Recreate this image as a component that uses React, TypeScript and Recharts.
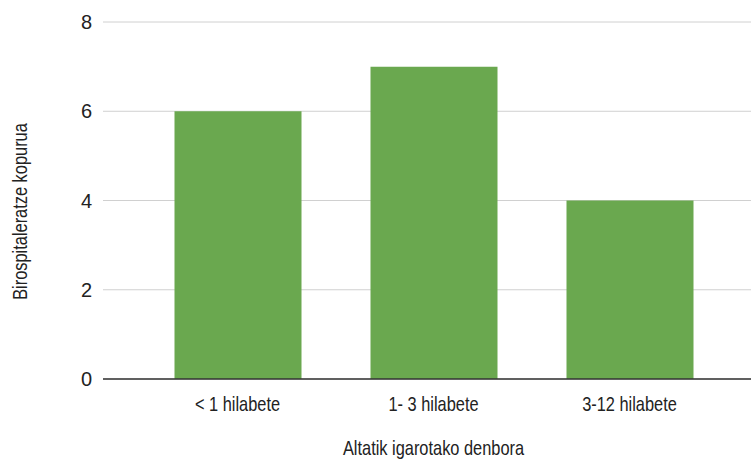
import React from 'react'
import { BarChart, Bar, XAxis, YAxis, CartesianGrid } from 'recharts'

const categories = ['< 1 hilabete', '1- 3 hilabete', '3-12 hilabete']
const hospitalisations = [6, 7, 4]
const yTicks = [0, 2, 4, 6, 8]

const FONT = "'Liberation Sans', Arial, sans-serif"
const TEXT_COLOR = '#222222'
const BAR_COLOR = '#6aa84f'
// labels are set in a condensed face; squeeze the regular one to match
const NARROW = 0.82

const data = categories.map((name, i) => ({ name, value: hospitalisations[i] }))

type Box = { x: number; y: number; width: number; height: number }

const CategoryTick = ({ x, y, payload }: { x?: number; y?: number; payload?: { value: string } }) => (
  <g transform={`translate(${x},${y}) scale(${NARROW},1)`}>
    <text x={0} y={0} dy="0.71em" textAnchor="middle" fontFamily={FONT} fontSize={20} fill={TEXT_COLOR}>
      {payload?.value}
    </text>
  </g>
)

const XTitle = ({ viewBox }: { viewBox?: Box }) => {
  if (!viewBox) return null
  const cx = viewBox.x + viewBox.width / 2
  const cy = viewBox.y + viewBox.height - 4
  return (
    <g transform={`translate(${cx},${cy}) scale(${NARROW},1)`}>
      <text x={0} y={0} textAnchor="middle" fontFamily={FONT} fontSize={20} fill={TEXT_COLOR}>
        Altatik igarotako denbora
      </text>
    </g>
  )
}

const YTitle = ({ viewBox }: { viewBox?: Box }) => {
  if (!viewBox) return null
  const cx = viewBox.x + 20
  const cy = viewBox.y + viewBox.height / 2 + 11
  return (
    <g transform={`translate(${cx},${cy}) rotate(-90) scale(${NARROW},1)`}>
      <text
        x={0}
        y={0}
        textAnchor="middle"
        dominantBaseline="central"
        fontFamily={FONT}
        fontSize={20}
        fill={TEXT_COLOR}
      >
        Birospitaleratze kopurua
      </text>
    </g>
  )
}

export default function App() {
  return (
    <div
      style={{
        position: 'fixed',
        left: 0,
        top: 0,
        width: 751,
        height: 459,
        overflow: 'hidden',
        background: '#ffffff',
      }}
    >
      <BarChart
        width={790}
        height={459}
        data={data}
        margin={{ top: 22, right: 26, left: 0, bottom: 0 }}
      >
        <CartesianGrid vertical={false} stroke="#d0d0d0" />
        <XAxis
          dataKey="name"
          height={80}
          padding={{ left: 36.5, right: 36.5 }}
          tickLine={false}
          tickMargin={12}
          axisLine={{ stroke: '#333333', strokeWidth: 1.3 }}
          tick={<CategoryTick />}
          label={<XTitle />}
        />
        <YAxis
          width={103}
          domain={[0, 8]}
          ticks={yTicks}
          tickLine={false}
          axisLine={false}
          tickMargin={5}
          tick={{ fontFamily: FONT, fontSize: 20, fill: TEXT_COLOR }}
          label={<YTitle />}
        />
        <Bar dataKey="value" fill={BAR_COLOR} barSize={127} isAnimationActive={false} />
      </BarChart>
    </div>
  )
}
